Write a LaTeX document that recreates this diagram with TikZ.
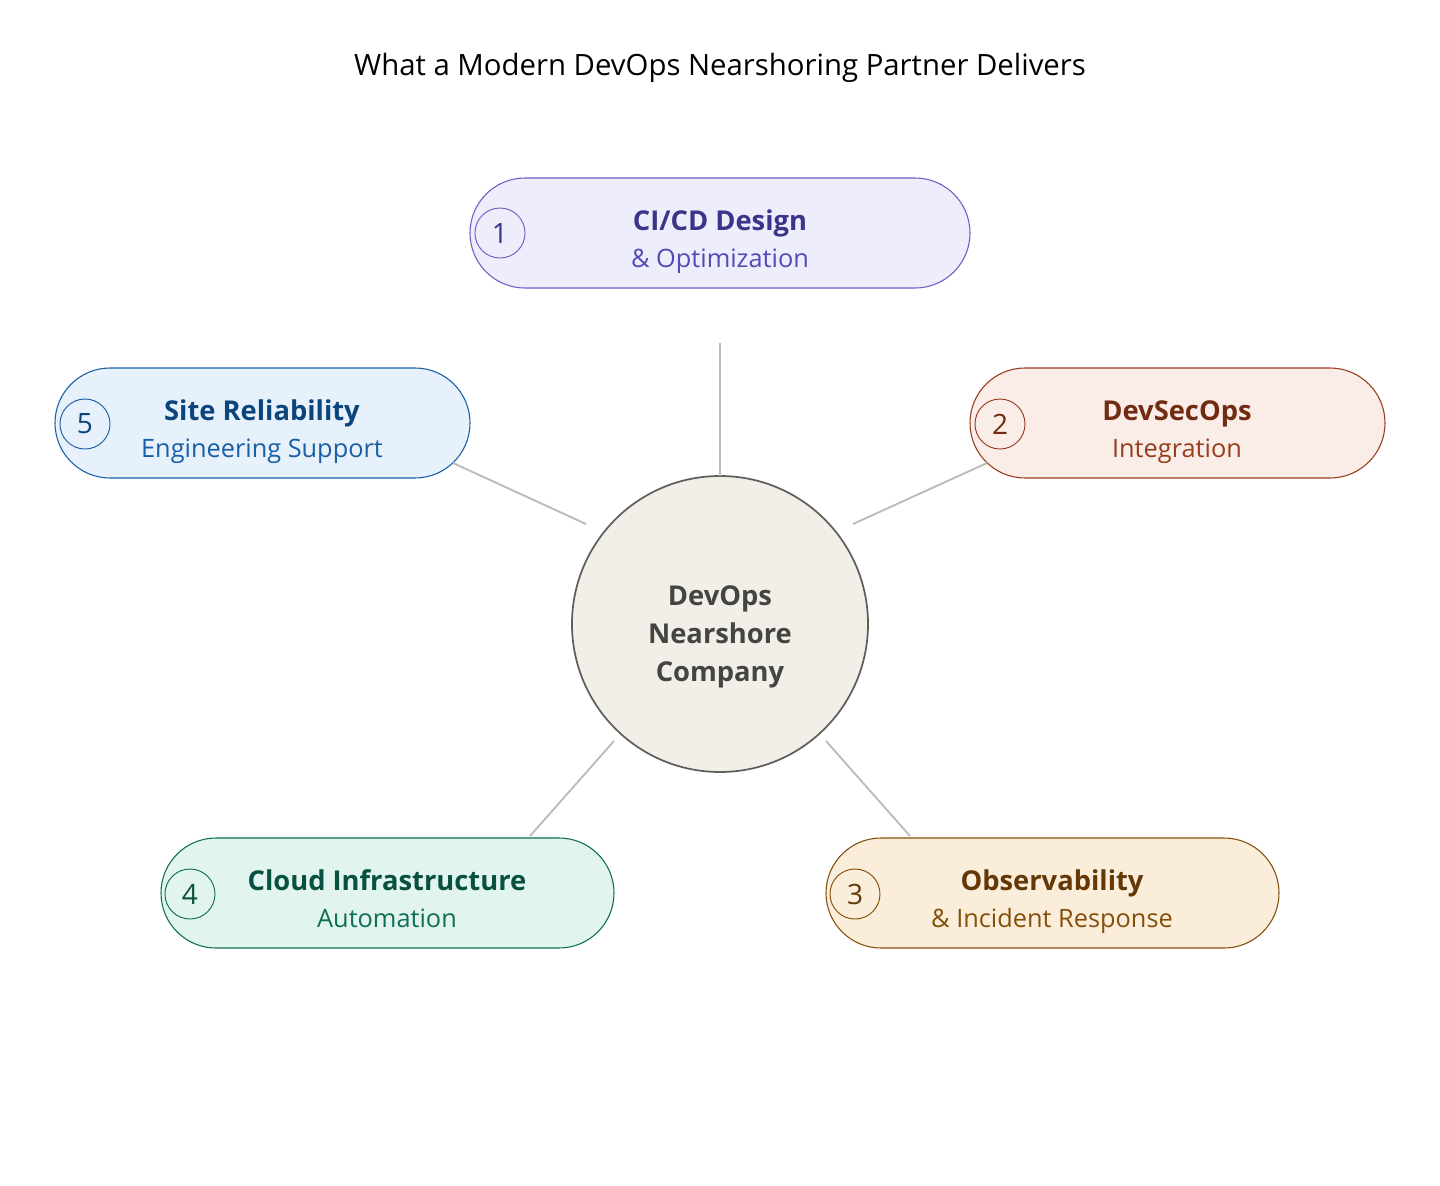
\documentclass[tikz,border=0pt]{standalone}
\usepackage{fontspec}
\setmainfont{Open Sans}
\definecolor{pAfill}{HTML}{EEEDFC}\definecolor{pAline}{HTML}{6B5FC7}\definecolor{pAttl}{HTML}{3C3489}\definecolor{pAsub}{HTML}{534AB7}
\definecolor{pBfill}{HTML}{FAECE7}\definecolor{pBline}{HTML}{993C1D}\definecolor{pBttl}{HTML}{712B13}\definecolor{pBsub}{HTML}{993C1D}
\definecolor{pCfill}{HTML}{FAEEDA}\definecolor{pCline}{HTML}{854F0B}\definecolor{pCttl}{HTML}{633806}\definecolor{pCsub}{HTML}{854F0B}
\definecolor{pDfill}{HTML}{E1F5EE}\definecolor{pDline}{HTML}{0F6E56}\definecolor{pDttl}{HTML}{085041}\definecolor{pDsub}{HTML}{0F6E56}
\definecolor{pEfill}{HTML}{E6F1FB}\definecolor{pEline}{HTML}{185FA5}\definecolor{pEttl}{HTML}{0C447C}\definecolor{pEsub}{HTML}{185FA5}
\definecolor{hubfill}{HTML}{F1EFE8}\definecolor{hubline}{HTML}{5F5E5A}\definecolor{hubtext}{HTML}{444441}
\definecolor{conn}{HTML}{BBBBBB}
\begin{document}
\begin{tikzpicture}[x=0.75pt,y=-0.75pt,
  pill/.style={draw, rectangle, rounded corners=41.25pt, minimum height=82.5pt, inner sep=0pt, line width=0.8pt},
  num/.style={draw, circle, minimum size=37.5pt, inner sep=0pt, line width=0.7pt, font=\fontsize{21}{24}\selectfont},
  ttl/.style={anchor=base, inner sep=0pt, font=\fontsize{20.5}{24}\selectfont\bfseries},
  sub/.style={anchor=base, inner sep=0pt, font=\fontsize{19}{22}\selectfont},
  link/.style={draw=conn, line width=1.4pt}]
\useasboundingbox[fill=white] (0,0) rectangle (1440,1186);
\node[anchor=base, inner sep=0pt, font=\fontsize{22}{26}\selectfont] (title) at (720,75) {What a Modern DevOps Nearshoring Partner Delivers};
% hub
\node[draw=hubline, fill=hubfill, circle, minimum size=222pt, inner sep=0pt, line width=1.3pt] (hub) at (720,624) {};
\node[align=center, text=hubtext, font=\fontsize{20.5}{28.5}\selectfont\bfseries] (hubtxt) at (720,637) {DevOps\\Nearshore\\Company};
% pills
\node[pill, draw=pAline, fill=pAfill, minimum width=375pt] (p1) at (720,233) {};
\node[num, draw=pAline, text=pAttl] (n1) at (500,233) {1};
\node[ttl, text=pAttl] (t1) at (720,230) {CI/CD Design};
\node[sub, text=pAsub] (s1) at (720,267) {\& Optimization};

\node[pill, draw=pBline, fill=pBfill, minimum width=311.25pt] (p2) at (1177.5,423) {};
\node[num, draw=pBline, text=pBttl] (n2) at (1000,424) {2};
\node[ttl, text=pBttl] (t2) at (1177,420) {DevSecOps};
\node[sub, text=pBsub] (s2) at (1177,457) {Integration};

\node[pill, draw=pCline, fill=pCfill, minimum width=339.75pt] (p3) at (1052.5,893) {};
\node[num, draw=pCline, text=pCttl] (n3) at (855,894) {3};
\node[ttl, text=pCttl] (t3) at (1052,890) {Observability};
\node[sub, text=pCsub] (s3) at (1052,927) {\& Incident Response};

\node[pill, draw=pDline, fill=pDfill, minimum width=339.75pt] (p4) at (387.5,893) {};
\node[num, draw=pDline, text=pDttl] (n4) at (190,894) {4};
\node[ttl, text=pDttl] (t4) at (387,890) {Cloud Infrastructure};
\node[sub, text=pDsub] (s4) at (387,927) {Automation};

\node[pill, draw=pEline, fill=pEfill, minimum width=311.25pt] (p5) at (262.5,423) {};
\node[num, draw=pEline, text=pEttl] (n5) at (85,424) {5};
\node[ttl, text=pEttl] (t5) at (262,420) {Site Reliability};
\node[sub, text=pEsub] (s5) at (262,457) {Engineering Support};
% connector ends
\coordinate (a1) at (720,343); \coordinate (b1) at (720,476);
\coordinate (a2) at (987,463); \coordinate (b2) at (853,524);
\coordinate (a3) at (910,836); \coordinate (b3) at (826,741);
\coordinate (a4) at (530,836); \coordinate (b4) at (614,741);
\coordinate (a5) at (453,463); \coordinate (b5) at (586,524);
\path[link] (a1) -- (b1);
\path[link] (a2) -- (b2);
\path[link] (a3) -- (b3);
\path[link] (a4) -- (b4);
\path[link] (a5) -- (b5);
\end{tikzpicture}
\end{document}
